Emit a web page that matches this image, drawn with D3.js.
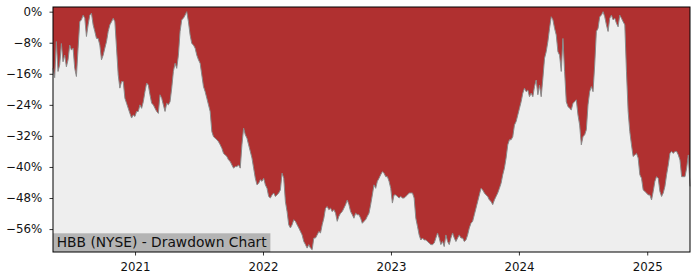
<!DOCTYPE html>
<html>
<head>
<meta charset="utf-8">
<script src="https://cdn.jsdelivr.net/npm/d3@7"></script>
<style>
  body { margin: 0; background: #fff; }
</style>
</head>
<body>
<svg id="chart"></svg>
<script>
// Data: one drawdown value (%) per sample, samples evenly spaced in time
const startDate = "2020-05-12";
const stepDays = 4.769;
const drawdown = [
  -14.6, -17.0, -7.7, -15.4, -13.7, -8.2, -12.9, -11.2, -14.2, -12.4, -8.6, -9.9, -9.4, -14.6, -16.7, -9.4,
  -2.6, -2.1, -0.9, -1.7, -6.4, -3.4, -0.9, -0.4, -3.4, -5.1, -6.9, -6.9, -8.6, -12.4, -11.2, -9.4,
  -7.7, -5.1, -3.4, -2.6, -1.7, -2.6, -9.4, -16.3, -19.7, -18.0, -18.0, -22.3, -23.6, -24.9, -26.2, -27.4,
  -26.6, -27.0, -25.7, -25.7, -24.0, -24.9, -23.2, -20.6, -18.4, -18.9, -21.4, -23.6, -24.0, -24.9, -25.7, -26.2,
  -21.4, -22.3, -24.0, -25.7, -23.6, -24.0, -23.2, -19.7, -15.4, -13.3, -14.6, -11.2, -5.1, -2.1, -1.7, -0.9,
  0, -2.6, -6.0, -8.2, -8.6, -9.4, -11.2, -12.4, -13.3, -16.3, -19.3, -20.6, -22.3, -24.0, -25.7, -30.9,
  -32.2, -32.6, -33.0, -33.5, -34.3, -35.2, -36.5, -36.9, -37.3, -38.2, -38.6, -39.5, -40.3, -39.9, -39.9, -39.5,
  -40.3, -34.3, -30.0, -31.7, -32.6, -34.3, -36.0, -37.7, -40.3, -42.9, -44.6, -44.2, -43.3, -43.7, -42.9, -44.6,
  -45.5, -47.6, -48.0, -47.2, -46.7, -47.6, -47.2, -46.7, -45.9, -41.6, -42.9, -48.9, -51.5, -54.9, -55.7, -54.9,
  -53.6, -54.0, -54.9, -55.7, -56.6, -57.5, -59.2, -60.0, -60.9, -60.0, -60.9, -61.3, -58.3, -58.3, -57.5, -56.6,
  -57.0, -54.9, -53.2, -50.6, -50.2, -51.0, -50.6, -51.5, -51.0, -51.9, -54.0, -52.7, -51.9, -51.5, -50.6, -49.7,
  -48.5, -49.7, -51.5, -52.3, -53.2, -51.9, -52.3, -52.3, -53.2, -54.5, -54.0, -53.6, -52.7, -51.9, -49.7, -47.2,
  -44.6, -45.5, -43.7, -42.9, -42.0, -41.2, -41.6, -42.5, -42.5, -43.7, -45.5, -49.3, -47.2, -47.2, -47.6, -48.0,
  -47.6, -48.0, -48.0, -47.6, -47.2, -46.7, -46.7, -46.7, -48.0, -53.2, -55.3, -57.5, -58.8, -58.3, -58.8, -58.8,
  -59.2, -59.6, -60.0, -60.0, -59.6, -58.3, -57.0, -58.3, -60.0, -59.2, -60.5, -57.5, -59.2, -60.0, -58.3, -57.0,
  -58.3, -59.2, -58.3, -57.5, -58.3, -58.3, -59.2, -58.8, -57.5, -55.7, -54.5, -54.0, -52.3, -50.6, -48.9, -47.2,
  -45.5, -45.9, -46.7, -47.2, -47.6, -48.5, -48.9, -49.7, -48.5, -47.6, -46.7, -45.5, -44.2, -42.0, -40.3, -37.7,
  -34.3, -33.0, -33.0, -32.2, -29.2, -28.3, -26.6, -24.9, -23.2, -21.0, -19.7, -20.6, -20.2, -21.9, -21.0, -21.9,
  -19.3, -17.6, -21.4, -18.9, -21.9, -17.2, -12.0, -10.3, -7.7, -4.3, -1.3, -2.1, -4.3, -6.0, -10.3, -11.2,
  -15.4, -6.9, -15.4, -23.2, -24.4, -24.9, -25.3, -23.6, -23.2, -22.7, -26.6, -29.2, -34.3, -32.2, -31.7, -30.4,
  -24.0, -20.6, -19.3, -20.6, -13.7, -5.1, -4.3, -1.3, -0.9, 0, -1.3, -3.4, -5.1, -1.7, -0.9, -2.1,
  -1.7, -3.0, -3.9, -0.9, -1.7, -2.6, -3.4, -15.4, -25.7, -30.9, -34.3, -37.3, -36.9, -36.5, -37.7, -42.0,
  -42.9, -45.9, -46.3, -46.7, -47.2, -47.2, -48.5, -46.3, -43.7, -42.5, -42.9, -46.3, -47.6, -46.7, -45.0, -42.0,
  -39.5, -36.5, -36.0, -36.5, -36.0, -36.0, -36.9, -38.2, -42.5, -42.5, -42.5, -40.3, -36.9, -45.0
];
const yTicks = [0, -8, -16, -24, -32, -40, -48, -56];
const xTickYears = [2021, 2022, 2023, 2024, 2025];
const chartLabel = "HBB (NYSE) - Drawdown Chart";

let width = 700,
  height = 280;
let margin = {
  top: 7,
  bottom: 28,
  left: 53,
  right: 10,
};

let t0 = d3.utcParse("%Y-%m-%d")(startDate);
let data = drawdown.map(function (v, i) {
  return { date: new Date(t0.getTime() + i * stepDays * 86400000), value: v };
});

let svg = d3.select("#chart").attr("width", width).attr("height", height)
  .style("font-family", "DejaVu Sans");

let xScale = d3
  .scaleUtc()
  .domain(d3.extent(data, (d) => d.date))
  .range([margin.left, width - margin.right]);

let yScale = d3
  .scaleLinear()
  .domain([-61.9, 1.2])
  .range([height - margin.bottom, margin.top]);

// plot background
svg
  .append("rect")
  .attr("x", margin.left)
  .attr("y", margin.top)
  .attr("width", width - margin.left - margin.right)
  .attr("height", height - margin.top - margin.bottom)
  .attr("fill", "#eeeeee");

// red drawdown area, from the top of the plot down to the curve
let area = d3
  .area()
  .x((d) => xScale(d.date))
  .y0(margin.top)
  .y1((d) => yScale(d.value));

svg.append("path").datum(data).attr("d", area).attr("fill", "#b03030");

let line = d3
  .line()
  .x((d) => xScale(d.date))
  .y((d) => yScale(d.value));

svg
  .append("path")
  .datum(data)
  .attr("d", line)
  .attr("fill", "none")
  .attr("stroke", "#8a8a8a")
  .attr("stroke-width", 1);

// label box
let labelG = svg.append("g");
let labelText = labelG
  .append("text")
  .attr("x", margin.left + 3.7)
  .attr("y", 247.3)
  .attr("font-size", "13.8px")
  .attr("fill", "#111")
  .text(chartLabel);
let tw = labelText.node().getComputedTextLength();
labelG
  .insert("rect", "text")
  .attr("x", margin.left)
  .attr("y", 233.3)
  .attr("width", tw + 7.4)
  .attr("height", height - margin.bottom - 233.3)
  .attr("fill", "#b4b4b4");

// axes
let fmt = (d) => (d < 0 ? "\u2212" + Math.abs(d) : d) + "%";

let yAxis = svg
  .append("g")
  .attr("transform", `translate(${margin.left}, 0)`)
  .call(d3.axisLeft(yScale).tickValues(yTicks).tickFormat(fmt).tickSize(3.5).tickPadding(7.2));

let xAxis = svg
  .append("g")
  .attr("transform", `translate(0, ${height - margin.bottom})`)
  .call(
    d3
      .axisBottom(xScale)
      .tickValues(xTickYears.map((y) => new Date(Date.UTC(y, 0, 1))))
      .tickFormat(d3.utcFormat("%Y"))
      .tickSize(3.5)
      .tickPadding(7.2)
  );

[yAxis, xAxis].forEach(function (g) {
  g.select(".domain").remove();
  g.selectAll("text").attr("font-size", "11.8px").attr("font-family", "DejaVu Sans").attr("fill", "#111");
  g.selectAll("line").attr("stroke", "#000").attr("stroke-width", 0.8);
});

// frame
svg
  .append("rect")
  .attr("x", margin.left)
  .attr("y", margin.top)
  .attr("width", width - margin.left - margin.right)
  .attr("height", height - margin.top - margin.bottom)
  .attr("fill", "none")
  .attr("stroke", "#000")
  .attr("stroke-width", 1);
</script>
</body>
</html>
